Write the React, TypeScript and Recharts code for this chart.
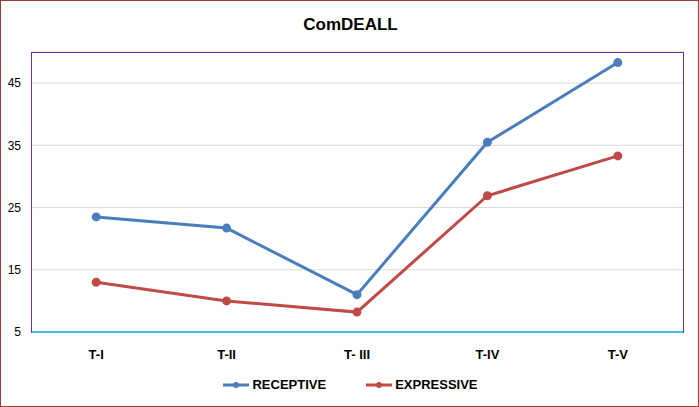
import React from 'react'
import { LineChart, Line, XAxis, YAxis, CartesianGrid } from 'recharts'

const stages = ['T-I', 'T-II', 'T- III', 'T-IV', 'T-V']
const receptive = [23.5, 21.7, 11.0, 35.5, 48.3]
const expressive = [13.0, 10.0, 8.2, 26.9, 33.3]
const yTicks = [5, 15, 25, 35, 45]

const data = stages.map((s, i) => ({ stage: s, receptive: receptive[i], expressive: expressive[i] }))

const BLUE = '#4a7ebb'
const RED = '#be4b48'
const FONT = '"Liberation Sans", Arial, sans-serif'

function LegendBox() {
  const items = [
    { label: 'RECEPTIVE', color: BLUE },
    { label: 'EXPRESSIVE', color: RED },
  ]
  return (
    <div style={{ display: 'flex', justifyContent: 'center', gap: 40, fontFamily: FONT, fontWeight: 'bold', fontSize: 13, color: '#000' }}>
      {items.map((it) => (
        <div key={it.label} style={{ display: 'flex', alignItems: 'center', gap: 3 }}>
          <svg width={26} height={10}>
            <line x1={0} y1={5} x2={26} y2={5} stroke={it.color} strokeWidth={3} />
            <circle cx={13} cy={5} r={3} fill={it.color} />
          </svg>
          <span>{it.label}</span>
        </div>
      ))}
    </div>
  )
}

export default function App() {
  return (
    <div style={{ position: 'absolute', left: 0, top: 0, width: 699, height: 407, boxSizing: 'border-box', border: '1.5px solid #9e3a38', background: '#fff', overflow: 'hidden' }}>
      <div style={{ position: 'absolute', left: 0, top: 14, width: 699, textAlign: 'center', fontFamily: FONT, fontWeight: 'bold', fontSize: 17, color: '#000' }}>
        ComDEALL
      </div>
      <div style={{ position: 'absolute', left: -1.5, top: -1.5 }}>
        <LineChart width={699} height={407} data={data} margin={{ top: 52, right: 16, bottom: 45, left: 0 }}>
          <CartesianGrid vertical={false} stroke="#d9d9d9" />
          <XAxis dataKey="stage" scale="band" height={30} axisLine={{ stroke: '#00b0f0', strokeWidth: 1.5 }} tickLine={false}
            tick={{ fontSize: 13, fontWeight: 'bold', fill: '#000', fontFamily: FONT }} tickMargin={12} />
          <YAxis domain={[5, 50]} ticks={yTicks} width={31} axisLine={false} tickLine={false} tickSize={0} tickMargin={10}
            tick={{ fontSize: 12, fill: '#000', fontFamily: FONT }} />
          <Line dataKey="receptive" name="RECEPTIVE" stroke={BLUE} strokeWidth={3} dot={{ r: 3, fill: BLUE, stroke: BLUE }} isAnimationActive={false} />
          <Line dataKey="expressive" name="EXPRESSIVE" stroke={RED} strokeWidth={3} dot={{ r: 3, fill: RED, stroke: RED }} isAnimationActive={false} />
        </LineChart>
      </div>
      <div style={{ position: 'absolute', left: 30, top: 51, width: 653, height: 281, boxSizing: 'border-box', borderTop: '1.5px solid #7030a0', borderLeft: '1.5px solid #7030a0', borderRight: '1.5px solid #7030a0', pointerEvents: 'none' }} />
      <div style={{ position: 'absolute', left: 0, top: 376, width: 699 }}>
        <LegendBox />
      </div>
    </div>
  )
}
